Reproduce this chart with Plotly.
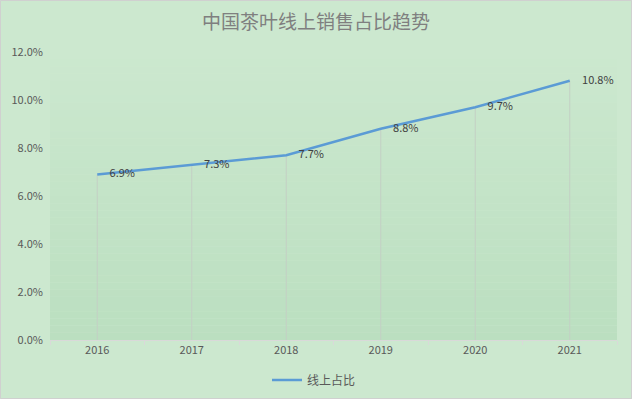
import plotly.graph_objects as go

years = ["2016", "2017", "2018", "2019", "2020", "2021"]
online_share = [0.069, 0.073, 0.077, 0.088, 0.097, 0.108]
series_name = "线上占比"
title_text = "中国茶叶线上销售占比趋势"

W, H = 632, 399
ML, MR, MT, MB = 50, 15, 52, 59
PW, PH = W - ML - MR, H - MT - MB

FONT = "Noto Sans CJK SC, Liberation Sans, sans-serif"

fig = go.Figure()

# drop lines from each point down to the axis
dx, dy = [], []
for x, v in zip(years, online_share):
    dx += [x, x, None]
    dy += [0, v, None]
fig.add_trace(go.Scatter(x=dx, y=dy, mode="lines", line=dict(color="#C3CFC4", width=1),
                         showlegend=False, hoverinfo="skip"))

fig.add_trace(go.Scatter(
    x=years, y=online_share, mode="lines+text", name=series_name,
    line=dict(color="#5B9BD5", width=2.5),
    texttemplate="     %{y:.1%}", textposition="middle right",
    textfont=dict(size=11, color="#404040", family=FONT),
))

# plot-area gradient (light top to darker green bottom)
shapes = []
n = 40
top_c = (204, 232, 207)
bot_c = (187, 223, 192)
for i in range(n):
    t = (i + 0.5) / n
    r = round(top_c[0] + (bot_c[0] - top_c[0]) * t)
    g = round(top_c[1] + (bot_c[1] - top_c[1]) * t)
    b = round(top_c[2] + (bot_c[2] - top_c[2]) * t)
    shapes.append(dict(type="rect", xref="paper", yref="paper", layer="below",
                       x0=0, x1=1, y0=1 - (i + 1) / n, y1=1 - i / n,
                       fillcolor=f"rgb({r},{g},{b})", line=dict(width=0)))
# outer border
shapes.append(dict(type="rect", xref="paper", yref="paper", layer="above",
                   x0=-ML / PW + 0.5 / PW, x1=1 + (MR - 0.5) / PW,
                   y0=-(MB - 0.5) / PH, y1=1 + (MT - 0.5) / PH,
                   line=dict(color="#D0D0D0", width=1), fillcolor="rgba(0,0,0,0)"))

fig.update_layout(
    width=W, height=H,
    margin=dict(l=ML, r=MR, t=MT, b=MB, pad=0, autoexpand=False),
    paper_bgcolor="#CCE8CF", plot_bgcolor="rgba(0,0,0,0)",
    font=dict(family=FONT, size=11, color="#595959"),
    title=dict(text=title_text, x=0.5, xref="container", xanchor="center", y=1 - 22 / H, yanchor="middle",
               font=dict(size=19, color="#7F7F7F", family=FONT)),
    showlegend=True,
    legend=dict(orientation="h", x=(314 - ML) / PW, xanchor="center", y=-(380 - 340) / PH, yanchor="middle",
                font=dict(size=12, color="#595959", family=FONT), bgcolor="rgba(0,0,0,0)"),
    shapes=shapes,
    xaxis=dict(type="category", range=[-0.5, 5.5], showgrid=False, zeroline=False, automargin=False,
               showline=True, linecolor="#D9D9D9", linewidth=1,
               ticks="outside", tickson="boundaries", ticklen=4, tickcolor="#D9D9D9",
               tickfont=dict(size=11, color="#595959")),
    yaxis=dict(range=[0, 0.12], dtick=0.02, tickformat=".1%", showgrid=False, zeroline=False,
               automargin=False, showline=False, ticks="", ticklabelstandoff=6,
               tickfont=dict(size=11, color="#595959")),
)

fig.write_html("out.html", config={"displayModeBar": False},
               post_script="document.body.style.margin='0';document.body.style.background='#CCE8CF';")
